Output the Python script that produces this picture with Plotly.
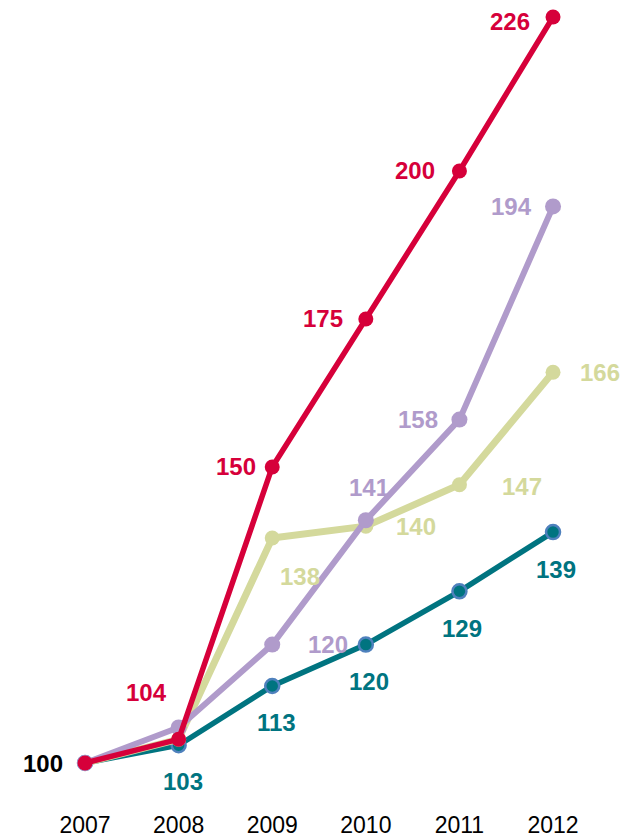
import plotly.graph_objects as go

years = [2007, 2008, 2009, 2010, 2011, 2012]
red_vals = [100, 104, 150, 175, 200, 226]
purple_vals = [100, 106, 120, 141, 158, 194]
olive_vals = [100, 104, 138, 140, 147, 166]
teal_vals = [100, 103, 113, 120, 129, 139]

# label offsets in pixels (dx, dy) per point; None = no label
red_off = [None, (-32, 47), (-36, 0), (-43, 0), (-44, 0), (-43, -4)]
purple_off = [None, None, (56, 0), (3, 33), (-41, 0), (-42, 0)]
olive_off = [None, None, (28, -38), (50, 0), (63, -2), (47, 0)]
teal_off = [None, (4, -36), (4, -36), (3, -37), (3, -37), (3, -37)]

RED = "#D6003A"
PURPLE = "#B09BCB"
OLIVE = "#D4D99C"
TEAL = "#007480"
FONT = "Liberation Sans"

series = [
    (teal_vals, TEAL, 5.5, dict(size=14, color=TEAL, line=dict(color="#4F81BD", width=2.5)), teal_off),
    (olive_vals, OLIVE, 7, dict(size=15, color=OLIVE), olive_off),
    (purple_vals, PURPLE, 6, dict(size=16, color=PURPLE), purple_off),
    (red_vals, RED, 5.5, dict(size=15, color=RED), red_off),
]

fig = go.Figure()
annotations = []
for vals, color, lw, marker, offs in series:
    fig.add_trace(go.Scatter(x=years, y=vals, mode="lines+markers",
                             line=dict(color=color, width=lw), marker=marker,
                             showlegend=False, hoverinfo="skip"))
    for x, v, off in zip(years, vals, offs):
        if off is None:
            continue
        annotations.append(dict(x=x, y=v, text=str(v), showarrow=False,
                                xshift=off[0], yshift=off[1],
                                font=dict(family=FONT, size=24, color=color)))

annotations.append(dict(x=years[0], y=red_vals[0], text="100", showarrow=False,
                        xshift=-42, yshift=0,
                        font=dict(family=FONT, size=24, color="black")))
for a in annotations:
    a["font"]["weight"] = "bold"

fig.update_layout(
    width=623, height=831,
    margin=dict(l=0, r=0, t=0, b=30),
    plot_bgcolor="white", paper_bgcolor="white",
    annotations=annotations,
    xaxis=dict(range=[2006.177, 2012.833], tickvals=years, ticktext=[str(y) for y in years],
               showgrid=False, zeroline=False, showline=False, ticks="",
               tickfont=dict(family=FONT, size=23, color="black")),
    yaxis=dict(range=[92.23, 227.52], visible=False, showgrid=False, zeroline=False),
)
fig.write_html("out.html")
